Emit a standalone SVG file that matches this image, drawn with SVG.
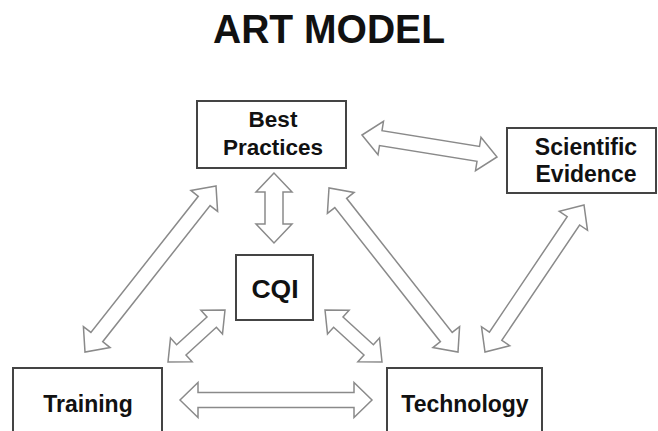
<svg xmlns="http://www.w3.org/2000/svg" width="658" height="431" viewBox="0 0 658 431">
<style>
.box{fill:#fff;stroke:#444;stroke-width:2}
.arr{fill:#fff;stroke:#8a8a8a;stroke-width:1.5;stroke-linejoin:miter}
.t{font-family:"Liberation Sans",Arial,sans-serif;font-weight:bold;fill:#111;text-anchor:middle}
</style>
<rect width="658" height="431" fill="#fff"/>
<text class="t" x="329" y="43" font-size="41" textLength="232" lengthAdjust="spacingAndGlyphs">ART MODEL</text>
<g id="connectors">
<polygon class="arr" points="362,135 378,154.8 379.5,145.5 477,161.3 475.5,170.7 497,157 481,137.2 479.5,146.5 382,130.7 383.5,121.3"/>
<polygon class="arr" points="274,173 256,192 265,192 265,224 256,224 274,243 292,224 283,224 283,192 292,192"/>
<polygon class="arr" points="216,186 190.9,190.4 198.3,196.3 90.9,332.4 83.4,326.6 85,352 110.1,347.6 102.7,341.7 210.1,205.6 217.6,211.4"/>
<polygon class="arr" points="329,188 327.4,213.4 334.8,207.6 440.4,341.7 432.9,347.6 458,352 459.6,326.6 452.2,332.4 346.6,198.3 354.1,192.4"/>
<polygon class="arr" points="584,205 559.3,211.3 567.2,216.6 489.4,332.1 481.5,326.7 485,352 509.7,345.7 501.8,340.4 579.6,225 587.5,230.3"/>
<polygon class="arr" points="225,310 200.9,310.3 207,317 176.6,344.7 170.5,338.1 168,362 192.1,361.7 186,355 216.4,327.3 222.5,333.9"/>
<polygon class="arr" points="325,310 327.5,333.9 333.6,327.3 364,355 357.9,361.7 382,362 379.5,338.1 373.4,344.7 343,317 349.1,310.3"/>
<polygon class="arr" points="180,400 198,417.5 198,407.5 354,407.5 354,417.5 372,400 354,382.5 354,392.5 198,392.5 198,382.5"/>
</g>
<g id="best-practices">
<rect class="box" x="197" y="101" width="149" height="67"/>
<text class="t" x="273" y="127" font-size="22.5">Best</text>
<text class="t" x="273" y="155" font-size="22.5">Practices</text>
</g>
<g id="scientific-evidence">
<rect class="box" x="507" y="128" width="149" height="65"/>
<text class="t" x="586" y="155" font-size="23">Scientific</text>
<text class="t" x="586" y="182" font-size="23">Evidence</text>
</g>
<g id="cqi">
<rect class="box" x="236" y="255" width="77" height="65"/>
<text class="t" x="275" y="298" font-size="26.5">CQI</text>
</g>
<g id="training">
<rect class="box" x="13" y="368" width="149" height="80"/>
<text class="t" x="88" y="412" font-size="23">Training</text>
</g>
<g id="technology">
<rect class="box" x="387" y="368" width="155" height="80"/>
<text class="t" x="465" y="412" font-size="23">Technology</text>
</g>
</svg>
